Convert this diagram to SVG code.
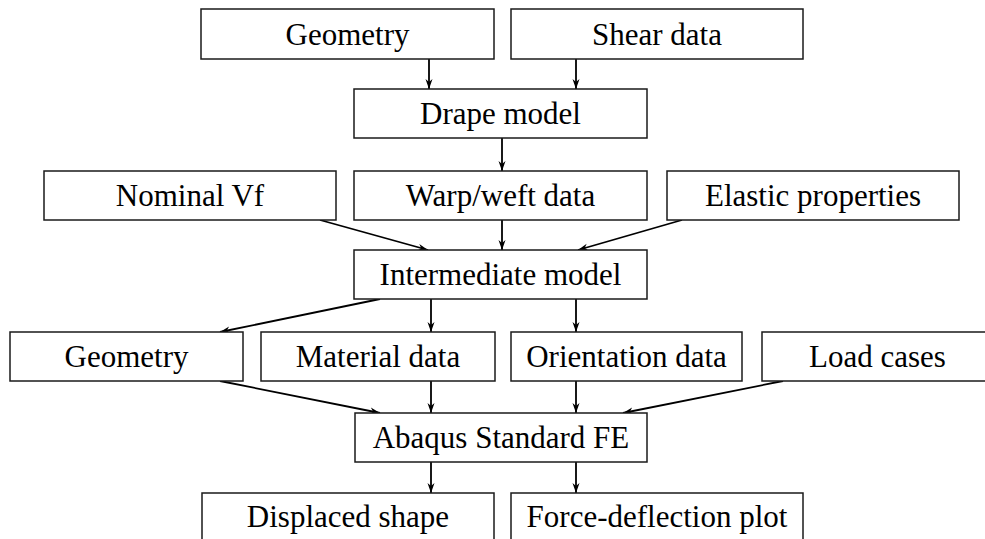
<svg xmlns="http://www.w3.org/2000/svg" width="985" height="539" viewBox="0 0 985 539">
<defs>
<style>
.box{fill:#fff;stroke:#1a1a1a;stroke-width:1.5}
.lbl{font-family:"Liberation Serif","Times New Roman",serif;font-size:31px;fill:#000;text-anchor:middle}
.con{stroke:#000;stroke-width:1.8;fill:none;marker-end:url(#ah)}
</style>
<marker id="ah" viewBox="0 0 10 10" refX="10" refY="5" markerWidth="10" markerHeight="10" markerUnits="userSpaceOnUse" orient="auto">
<path d="M0,1.5 L10,5 L0,8.5 L3,5 Z" fill="#000"/>
</marker>
</defs>
<rect width="985" height="539" fill="#fff"/>
<g id="connectors">
<line class="con" x1="429" y1="59" x2="429" y2="89"/>
<line class="con" x1="576" y1="59" x2="576" y2="89"/>
<line class="con" x1="502" y1="138" x2="502" y2="171"/>
<line class="con" x1="320" y1="220" x2="428" y2="250"/>
<line class="con" x1="502" y1="220" x2="502" y2="250"/>
<line class="con" x1="682" y1="220" x2="578" y2="250"/>
<line class="con" x1="380" y1="299" x2="220" y2="332"/>
<line class="con" x1="431" y1="299" x2="431" y2="332"/>
<line class="con" x1="576" y1="299" x2="576" y2="332"/>
<line class="con" x1="220" y1="381" x2="380" y2="413"/>
<line class="con" x1="431" y1="381" x2="431" y2="413"/>
<line class="con" x1="576" y1="381" x2="576" y2="413"/>
<line class="con" x1="783" y1="381" x2="623" y2="413"/>
<line class="con" x1="431" y1="462" x2="431" y2="493"/>
<line class="con" x1="576" y1="462" x2="576" y2="493"/>
</g>
<g id="geometry-in"><rect class="box" x="201" y="9" width="293" height="50"/><text class="lbl" x="347.5" y="44.5">Geometry</text></g>
<g id="shear-data"><rect class="box" x="511" y="9" width="292" height="50"/><text class="lbl" x="657" y="44.5">Shear data</text></g>
<g id="drape-model"><rect class="box" x="354" y="89" width="293" height="49"/><text class="lbl" x="500.5" y="124">Drape model</text></g>
<g id="nominal-vf"><rect class="box" x="44" y="171" width="292" height="49"/><text class="lbl" x="190" y="206">Nominal Vf</text></g>
<g id="warp-weft"><rect class="box" x="354" y="171" width="293" height="49"/><text class="lbl" x="500.5" y="206">Warp/weft data</text></g>
<g id="elastic"><rect class="box" x="667" y="171" width="292" height="49"/><text class="lbl" x="813" y="206">Elastic properties</text></g>
<g id="intermediate"><rect class="box" x="354" y="250" width="293" height="49"/><text class="lbl" x="500.5" y="285">Intermediate model</text></g>
<g id="geometry-out"><rect class="box" x="10" y="332" width="233" height="49"/><text class="lbl" x="126.5" y="367">Geometry</text></g>
<g id="material"><rect class="box" x="261" y="332" width="234" height="49"/><text class="lbl" x="378" y="367">Material data</text></g>
<g id="orientation"><rect class="box" x="511" y="332" width="231" height="49"/><text class="lbl" x="626.5" y="367">Orientation data</text></g>
<g id="load-cases"><rect class="box" x="762" y="332" width="231" height="49"/><text class="lbl" x="877.5" y="367">Load cases</text></g>
<g id="abaqus"><rect class="box" x="355" y="413" width="292" height="49"/><text class="lbl" x="501" y="448">Abaqus Standard FE</text></g>
<g id="displaced"><rect class="box" x="202" y="493" width="292" height="50"/><text class="lbl" x="348" y="527">Displaced shape</text></g>
<g id="force-deflection"><rect class="box" x="511" y="493" width="292" height="50"/><text class="lbl" x="657" y="527">Force-deflection plot</text></g>
</svg>
